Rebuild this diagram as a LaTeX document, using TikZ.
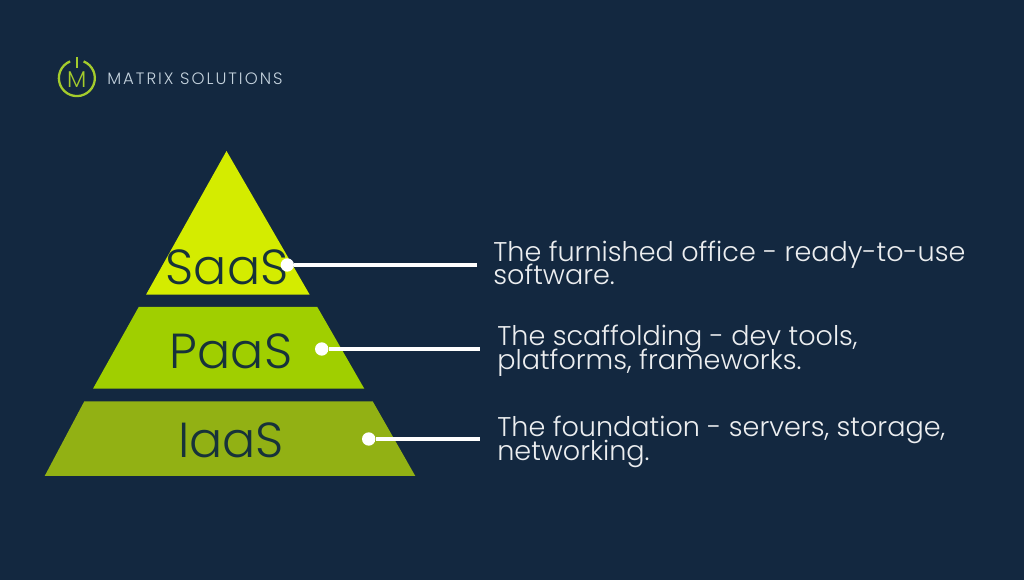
\documentclass[tikz,border=0pt]{standalone}
\usepackage{fontspec}
\usepackage{xcolor}
\setmainfont{Poppins Light}
\newfontfamily\logofont[LetterSpace=12]{Poppins Light}
\usetikzlibrary{calc}
\definecolor{bgblue}{HTML}{132840}
\definecolor{topgreen}{HTML}{D4EC00}
\definecolor{midgreen}{HTML}{A0CF00}
\definecolor{lowgreen}{HTML}{92B114}
\definecolor{tierink}{HTML}{17323A}
\definecolor{logoink}{HTML}{C5D3DE}
\definecolor{logogreen}{HTML}{A4CC2C}
\tikzset{
	tierlabel/.style = {text = tierink, font = \fontsize{28}{30}\selectfont, inner sep = 0pt, anchor = base},
	tiertext/.style = {text = white!92!bgblue, font = \fontsize{15.4}{13}\selectfont, align = left, inner sep = 0pt, anchor = base west},
	tierdot/.style = {circle, fill = white, inner sep = 0pt, minimum size = 7.6pt},
	leader/.style = {white, line width = 1.9pt}
}
\begin{document}
\begin{tikzpicture}[x = 0.02cm, y = -0.02cm]
		\def\W{1024}
		\def\H{580}
		
		\fill [bgblue] (0,0) rectangle (\W,\H);
		\useasboundingbox (0,0) rectangle (\W,\H);
		
		%pyramid
		\fill [topgreen] (226.5,151) -- (309.7,294.7) -- (146,294.7) -- cycle;
		\fill [midgreen] (138.7,307) -- (317.3,307) -- (364.3,388.7) -- (93,388.7) -- cycle;
		\fill [lowgreen] (84.3,401.3) -- (372.7,401.3) -- (415.3,476) -- (44.7,476) -- cycle;
		
		\node [tierlabel] (saas) at (227,285) {SaaS};
		\node [tierlabel] (paas) at (231,369) {PaaS};
		\node [tierlabel] (iaas) at (231,458) {IaaS};
		
		%leaders
		\node [tierdot] (saas dot) at (287.3,265) {};
		\node [tierdot] (paas dot) at (321.7,349) {};
		\node [tierdot] (iaas dot) at (368.7,439) {};
		
		\coordinate (saas end) at (476.7,265);
		\coordinate (paas end) at (480,349);
		\coordinate (iaas end) at (480,439);
		
		\draw [leader] (saas dot) -- (saas end);
		\draw [leader] (paas dot) -- (paas end);
		\draw [leader] (iaas dot) -- (iaas end);
		
		\node [tiertext] (saas text) at (493,285) {The furnished office - ready-to-use\\[-3.1pt]software.};
		\node [tiertext] (paas text) at (497,370) {The scaffolding - dev tools,\\[-3.1pt]platforms, frameworks.};
		\node [tiertext] (iaas text) at (497,460) {The foundation - servers, storage,\\[-3.1pt]networking.};
		
		%logo
		\coordinate (logo centre) at (76.7,78);
		\draw [logogreen, line width = 1.3pt] ($ (logo centre) + (6.9,-16.6) $) arc [start angle = 68, end angle = -248, radius = 18*0.02cm];
		\draw [logogreen, line width = 1.3pt] ($ (logo centre) + (0,-21) $) -- ++(0,11);
		\node [text = logogreen, font = \fontsize{13}{13}\selectfont, inner sep = 0pt] (logo m) at ($ (logo centre) + (0,1.5) $) {M};
		\node [text = logoink, font = \logofont\fontsize{9.4}{10}\selectfont, inner sep = 0pt, anchor = west] (logo name) at (107,78.5) {MATRIX SOLUTIONS};
	\end{tikzpicture}
\end{document}
